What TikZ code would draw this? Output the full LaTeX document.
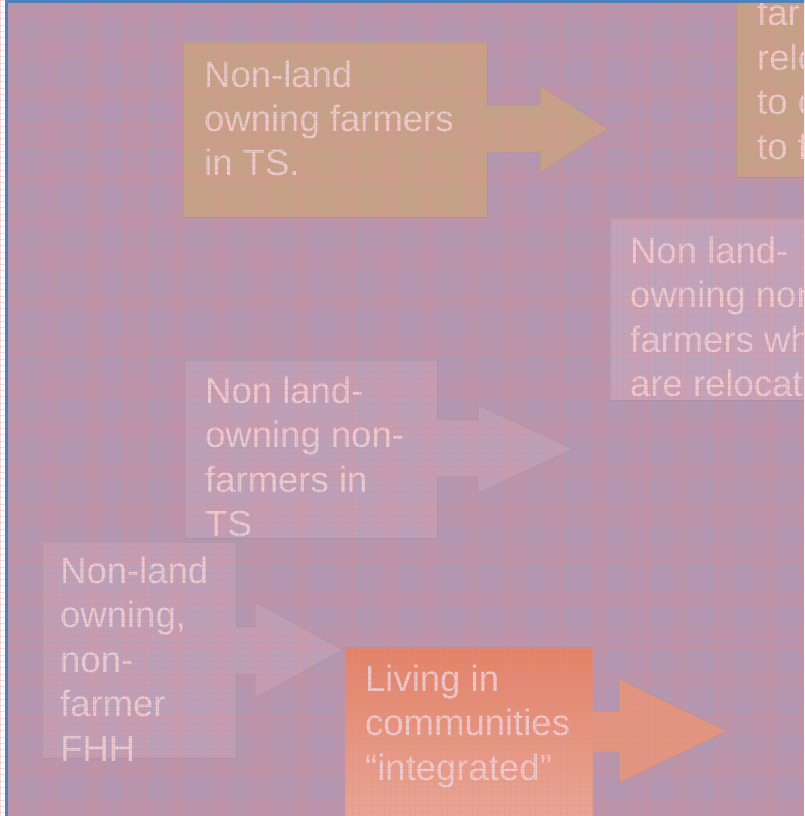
\documentclass[tikz,border=0pt]{standalone}
\usepackage{fontspec}
\setmainfont{Liberation Sans}
\usetikzlibrary{calc}
\definecolor{bgmauve}{RGB}{181,150,176}
\definecolor{tanfill}{RGB}{197,161,136}
\definecolor{mauvebox}{RGB}{194,163,188}
\definecolor{mauvelow}{RGB}{190,159,184}
\definecolor{salmontop}{RGB}{226,130,102}
\definecolor{salmonbot}{RGB}{232,168,152}
\definecolor{salmonarr}{RGB}{226,150,128}
\definecolor{txtpink}{RGB}{238,208,212}
\definecolor{frameblue}{RGB}{79,129,189}
\definecolor{gridpink}{RGB}{228,140,140}
\tikzset{
  boxshape/.style={rectangle, inner sep=0pt, draw=black!45, draw opacity=0.3, line width=0.8pt},
  arrowshape/.style={draw=black!45, draw opacity=0.3, line width=0.8pt},
  boxtext/.style={anchor=base west, inner sep=0pt, text=txtpink, text opacity=0.88, font=\fontsize{36.5}{44.5}\selectfont},
  texture/.style={gridpink, opacity=0.3, line width=0.9pt},
}
\newcommand{\lineset}[1]{\parbox[t]{400pt}{\raggedright #1}}
\begin{document}
\begin{tikzpicture}[x=1pt,y=-1pt]
\useasboundingbox (0,0) rectangle (804,816);
\clip (0,0) rectangle (804,816);
\fill[white] (0,0) rectangle (804,816);
\fill[bgmauve] (5,0) rectangle (804,816);
% box 1 with arrow
\fill[tanfill, arrowshape] (480,105) -- (540,105) -- (540,85) -- (608,129) -- (540,173) -- (540,152) -- (480,152);
\node[boxshape, fill=tanfill, minimum width=304pt, minimum height=175pt] (b1) at (335,129.5) {};
\fill[tanfill] (486,106) rectangle (492,151);
\node[boxtext] (t1) at (204,87) {\lineset{Non-land\\owning farmers\\in TS.}};
% box 2
\node[boxshape, fill=tanfill, minimum width=100pt, minimum height=190pt] (b2) at (786,82) {};
\node[boxtext] (t2) at (757,26) {\lineset{far\\relo\\to c\\to f}};
% box 3
\node[boxshape, fill=mauvebox, minimum width=220pt, minimum height=182pt] (b3) at (720,309) {};
\node[boxtext] (t3) at (630,263) {\lineset{Non land-\\owning non\\farmers wh\\are relocat}};
% box 4 with arrow
\fill[mauvelow, arrowshape] (430,420) -- (478,420) -- (478,405) -- (573,449) -- (478,493) -- (478,477) -- (430,477);
\node[boxshape, fill=mauvelow, minimum width=252pt, minimum height=178pt] (b4) at (311,449) {};
\fill[mauvelow] (436,421) rectangle (442,476);
\node[boxtext] (t4) at (205,403) {\lineset{Non land-\\owning non-\\farmers in\\TS}};
% box 5 with arrow
\fill[mauvelow, arrowshape] (230,627) -- (255,627) -- (255,602) -- (343,650) -- (255,698) -- (255,674) -- (230,674);
\node[boxshape, fill=mauvelow, minimum width=194pt, minimum height=216pt] (b5) at (139,650) {};
\fill[mauvelow] (235,628) rectangle (241,673);
\node[boxtext] (t5) at (60,583) {\lineset{Non-land\\owning,\\non-\\farmer\\FHH}};
% box 6 with arrow
\fill[salmonarr, arrowshape] (586,711) -- (619,711) -- (619,679) -- (727,731) -- (619,783) -- (619,752) -- (586,752);
\node[boxshape, draw=none, minimum width=248pt, minimum height=180pt, top color=salmontop, bottom color=salmonbot] (b6) at (469,737) {};
\fill[salmonarr] (592,712) rectangle (598,751);
\node[boxtext] (t6) at (365,691) {\lineset{Living in\\communities\\“integrated”}};
% texture
\foreach \k in {0,...,130} {
  \draw[texture] (\k*6.3,0) -- (\k*6.3,816);
  \draw[texture] (0,\k*6.3) -- (804,\k*6.3);
}
% frame
\draw[frameblue, line width=3pt] (6.5,900) -- (6.5,1.5) -- (900,1.5);
\end{tikzpicture}
\end{document}
